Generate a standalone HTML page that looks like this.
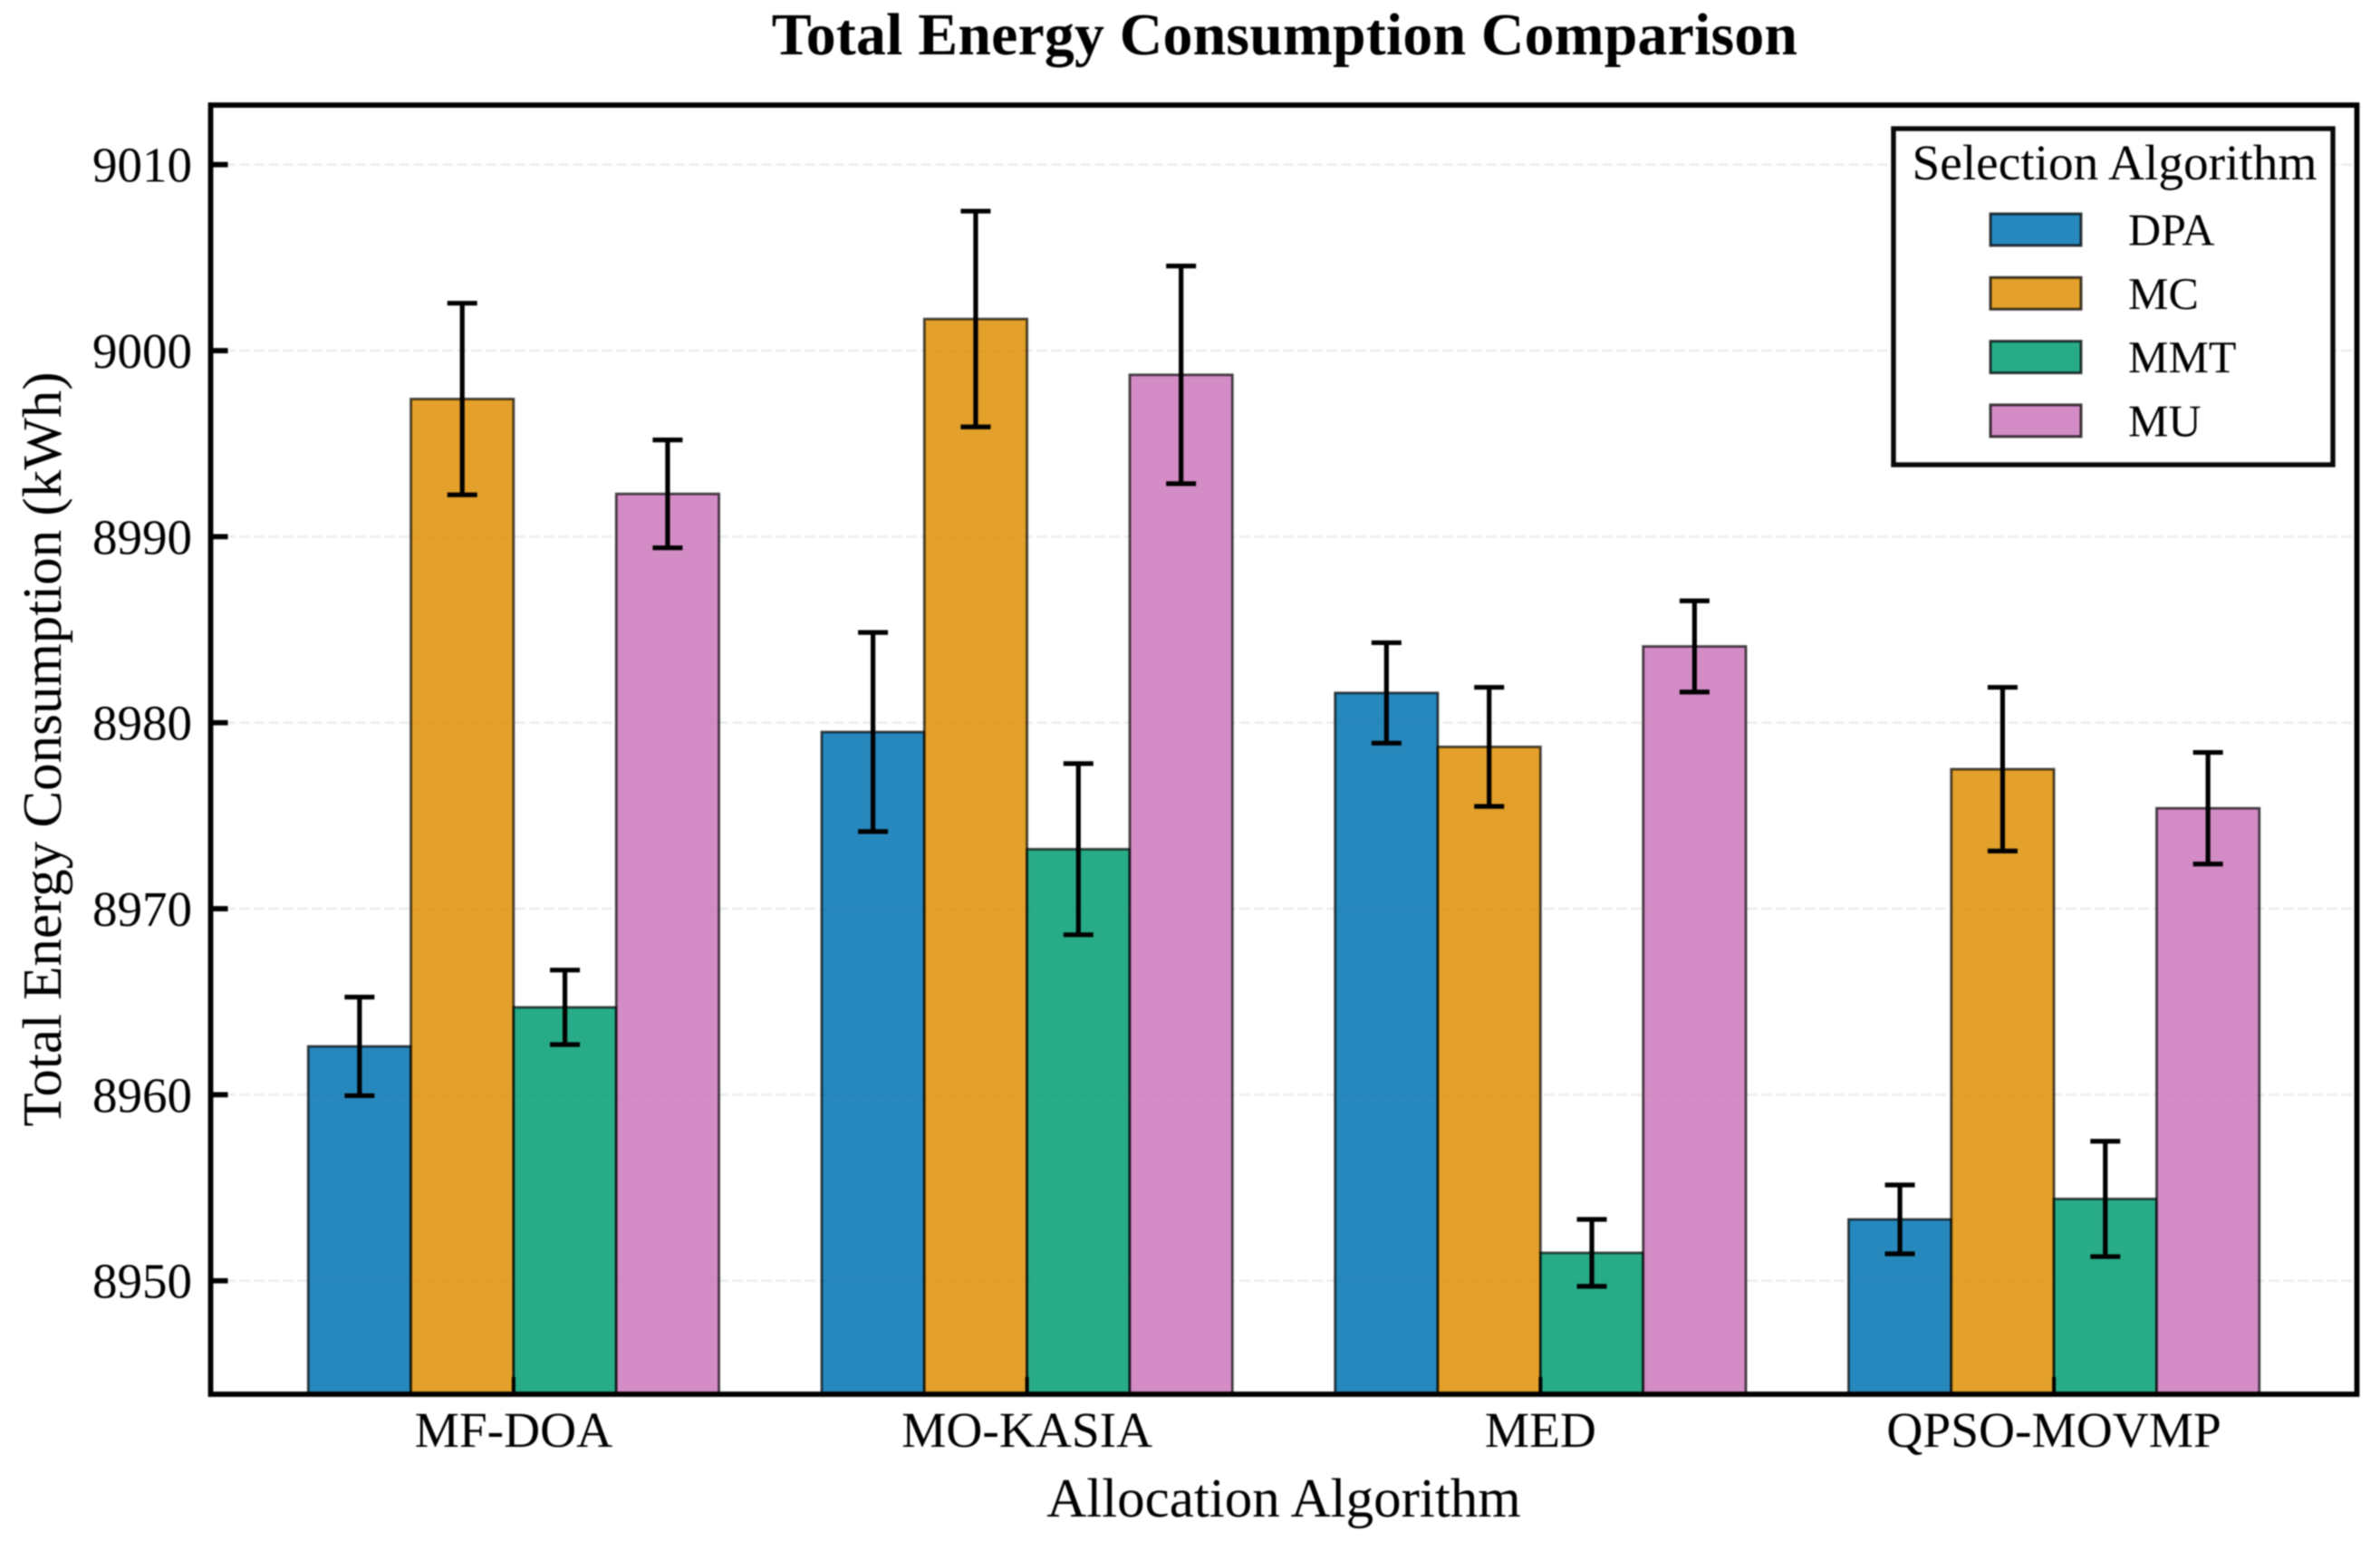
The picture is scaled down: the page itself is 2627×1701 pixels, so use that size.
<!DOCTYPE html>
<html lang="en">
<head>
<meta charset="utf-8">
<title>Total Energy Consumption Comparison</title>
<style>
html,body{margin:0;padding:0;background:#fff;}
svg{display:block;filter:blur(0.9px);}
text{font-family:"Liberation Serif","Times New Roman",serif;fill:#000;text-rendering:geometricPrecision;}
</style>
</head>
<body>
<svg id="chart" xmlns="http://www.w3.org/2000/svg" width="2627" height="1701" viewBox="0 0 2627 1701">
  <rect x="0" y="0" width="2627" height="1701" fill="#fff"/>
  <text x="1418" y="60" font-size="65.8" font-weight="700" text-anchor="middle" letter-spacing="0.2">Total Energy Consumption Comparison</text>
  <g id="grid"></g>
  <g id="bars"></g>
  <g id="errors"></g>
  <g id="ticks"></g>
  <rect x="232.5" y="116" width="2369" height="1423" fill="none" stroke="#000" stroke-width="5.8"/>
  <g id="labels"></g>
  <text x="1417" y="1674" font-size="61" text-anchor="middle">Allocation Algorithm</text>
  <text transform="translate(67 827) rotate(-90)" font-size="61" text-anchor="middle">Total Energy Consumption (kWh)</text>
  <g id="legend">
    <rect x="2090" y="142" width="485" height="371" fill="#fff" stroke="#0a0a0a" stroke-width="5.4"/>
    <text x="2334" y="198" font-size="55.3" text-anchor="middle">Selection Algorithm</text>
  </g>
</svg>
<script>
const categories = ["MF-DOA", "MO-KASIA", "MED", "QPSO-MOVMP"];
const seriesNames = ["DPA", "MC", "MMT", "MU"];
const seriesColors = ["#0173B2", "#DE8F05", "#029E73", "#CC78BC"];
const valuesDPA = [8962.6, 8979.5, 8981.6, 8953.3];
const valuesMC = [8997.4, 9001.7, 8978.7, 8977.5];
const valuesMMT = [8964.7, 8973.2, 8951.5, 8954.4];
const valuesMU = [8992.3, 8998.7, 8984.1, 8975.4];
const errorsDPA = [2.65, 5.35, 2.7, 1.85];
const errorsMC = [5.15, 5.8, 3.2, 4.4];
const errorsMMT = [2.0, 4.6, 1.8, 3.1];
const errorsMU = [2.9, 5.85, 2.45, 3.0];
const yTickValues = [8950, 8960, 8970, 8980, 8990, 9000, 9010];

const seriesValues = [valuesDPA, valuesMC, valuesMMT, valuesMU];
const seriesErrors = [errorsDPA, errorsMC, errorsMMT, errorsMU];

const plotLeft = 232.5, plotRight = 2601.5, plotTop = 116, plotBottom = 1539;
const xMin = -0.59, xMax = 3.59, yMin = 8943.9, yMax = 9013.2;
const barWidth = 0.2;

function xScale(v) { return plotLeft + (v - xMin) / (xMax - xMin) * (plotRight - plotLeft); }
function yScale(v) { return plotBottom - (v - yMin) / (yMax - yMin) * (plotBottom - plotTop); }

const NS = "http://www.w3.org/2000/svg";
function mk(tag, parent, attrs) {
  const el = document.createElementNS(NS, tag);
  for (const k in attrs) el.setAttribute(k, attrs[k]);
  document.getElementById(parent).appendChild(el);
  return el;
}

yTickValues.forEach(function (t) {
  const y = yScale(t);
  const line = mk("line", "grid", { x1: plotLeft, x2: plotRight, y1: y, y2: y, stroke: "#ececec", "stroke-width": 2.6, "stroke-dasharray": "11 5" });
  
  

  const tick = mk("line", "ticks", { x1: plotLeft, x2: plotLeft + 19, y1: y, y2: y, stroke: "#000", "stroke-width": 5.8 });
  
  

  const label = mk("text", "labels", { x: 212, y: y + 19, "font-size": 55, "text-anchor": "end" });
  label.textContent = t;
  
  
});

seriesNames.forEach(function (name, s) {
  const offset = (s - 1.5) * barWidth;
  categories.forEach(function (cat, c) {
    const left = xScale(c + offset - barWidth / 2);
    const right = xScale(c + offset + barWidth / 2);
    const mid = xScale(c + offset);
    const top = yScale(seriesValues[s][c]);
    const bar = mk("rect", "bars", {
      x: left, y: top, width: right - left, height: plotBottom - top,
      fill: seriesColors[s], "fill-opacity": 0.85,
      stroke: "#000", "stroke-opacity": 0.7, "stroke-width": 2.8
    });
    
    

    const hi = yScale(seriesValues[s][c] + seriesErrors[s][c]);
    const lo = yScale(seriesValues[s][c] - seriesErrors[s][c]);
    const stem = mk("line", "errors", { x1: mid, x2: mid, y1: hi, y2: lo, stroke: "#000", "stroke-width": 5.2 });
    
    

    const capTop = mk("line", "errors", { x1: mid - 16.5, x2: mid + 16.5, y1: hi, y2: hi, stroke: "#000", "stroke-width": 5.2 });
    
    

    const capBottom = mk("line", "errors", { x1: mid - 16.5, x2: mid + 16.5, y1: lo, y2: lo, stroke: "#000", "stroke-width": 5.2 });
    
    
  });

  const rowY = 253.5 + s * 70.3;
  const swatch = mk("rect", "legend", {
    x: 2197, y: rowY - 17.5, width: 100, height: 35,
    fill: seriesColors[s], "fill-opacity": 0.85,
    stroke: "#000", "stroke-opacity": 0.75, "stroke-width": 3
  });
  
  

  const entry = mk("text", "legend", { x: 2349, y: rowY + 17, "font-size": 50 });
  entry.textContent = name;
  
  
});

categories.forEach(function (cat, c) {
  const x = xScale(c);
  const tick = mk("line", "ticks", { x1: x, x2: x, y1: plotBottom, y2: plotBottom - 19, stroke: "#000", "stroke-width": 4 });
  
  

  const label = mk("text", "labels", { x: x, y: 1597, "font-size": 55.4, "text-anchor": "middle" });
  label.textContent = cat;
  
  
});
</script>
</body>
</html>
